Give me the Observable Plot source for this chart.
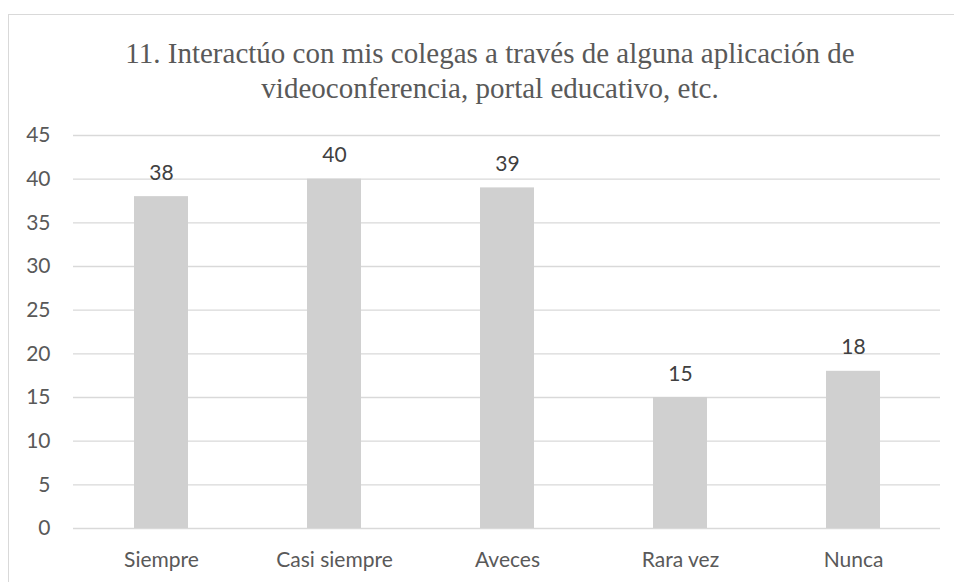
<!DOCTYPE html>
<html>
<head>
<meta charset="utf-8">
<script src="https://cdn.jsdelivr.net/npm/d3@7"></script>
<script src="https://cdn.jsdelivr.net/npm/@observablehq/plot@0.6"></script>
<style>
  html, body { margin: 0; padding: 0; background: #fff; }
  #wrap { position: relative; width: 954px; height: 582px; overflow: hidden; }
  #frame { position: absolute; left: 8px; top: 14px; width: 980px; height: 600px; border: 1px solid #d9d9d9; box-sizing: border-box; }
  #title { position: absolute; left: 8px; width: 964px; top: 36px; text-align: center;
           font-family: "Liberation Serif", "Times New Roman", serif; font-size: 29px; line-height: 35px; color: #595959; white-space: nowrap; }
  #chart { position: absolute; left: 0; top: 0; }
</style>
</head>
<body>
<div id="wrap">
  <div id="frame"></div>
  <div id="chart"></div>
  <div id="title">11. Interactúo con mis colegas a través de alguna aplicación de<br>videoconferencia, portal educativo, etc.</div>
</div>
<script>
const categories = ["Siempre", "Casi siempre", "Aveces", "Rara vez", "Nunca"];
const values = [38, 40, 39, 15, 18];
const yTicks = [0, 5, 10, 15, 20, 25, 30, 35, 40, 45];

const data = categories.map((c, i) => ({category: c, value: values[i]}));

const chart = Plot.plot({
  width: 954,
  height: 582,
  marginTop: 135,
  marginBottom: 54,
  marginLeft: 73,
  marginRight: 14,
  style: {fontFamily: "Lato, sans-serif", fontSize: "21px", color: "#595959", background: "transparent"},
  x: {domain: categories, paddingInner: 0.69, paddingOuter: 0.345, label: null},
  y: {domain: [0, 45], ticks: yTicks, label: null},
  marks: [
    Plot.gridY(yTicks, {stroke: "#d9d9d9", strokeOpacity: 1, strokeWidth: 1.3}),
    Plot.barY(data, {x: "category", y: "value", fill: "#d0d0d0"}),
    Plot.axisY(yTicks, {tickSize: 0, tickPadding: 23, fontSize: 21, fill: "#595959", label: null}),
    Plot.axisX({tickSize: 0, tickPadding: 24, fontSize: 21, fill: "#595959", label: null}),
    Plot.text(data, {x: "category", y: "value", text: d => String(d.value), lineAnchor: "bottom", dy: -17, fontSize: 21, fill: "#404040"})
  ]
});
document.getElementById("chart").appendChild(chart);
</script>
</body>
</html>
